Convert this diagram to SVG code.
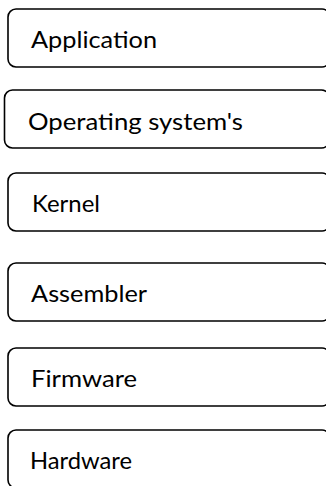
<svg xmlns="http://www.w3.org/2000/svg" width="326" height="486" viewBox="0 0 326 486">
<style>
.box{fill:#fff;stroke:#000;stroke-width:1.6}
.lbl{font-family:Lato,"Open Sans",sans-serif;font-size:24px;fill:#000}
</style>
<rect width="326" height="486" fill="#fff"/>
<g id="connectors"/>
<g id="application"><rect class="box" x="8" y="9" width="322" height="58" rx="8"/><text class="lbl" x="31" y="48" textLength="126" lengthAdjust="spacingAndGlyphs">Application</text></g>
<g id="operating-systems"><rect class="box" x="4.5" y="90" width="325" height="58" rx="8"/><text class="lbl" x="28" y="130" textLength="215" lengthAdjust="spacingAndGlyphs">Operating system's</text></g>
<g id="kernel"><rect class="box" x="8" y="173" width="322" height="58" rx="8"/><text class="lbl" x="32" y="212" textLength="68" lengthAdjust="spacingAndGlyphs">Kernel</text></g>
<g id="assembler"><rect class="box" x="8" y="263" width="322" height="58" rx="8"/><text class="lbl" x="31" y="302" textLength="116" lengthAdjust="spacingAndGlyphs">Assembler</text></g>
<g id="firmware"><rect class="box" x="8" y="348" width="322" height="58" rx="8"/><text class="lbl" x="31" y="387" textLength="106" lengthAdjust="spacingAndGlyphs">Firmware</text></g>
<g id="hardware"><rect class="box" x="8" y="430" width="322" height="58" rx="8"/><text class="lbl" x="30" y="469" textLength="102" lengthAdjust="spacingAndGlyphs">Hardware</text></g>
</svg>
